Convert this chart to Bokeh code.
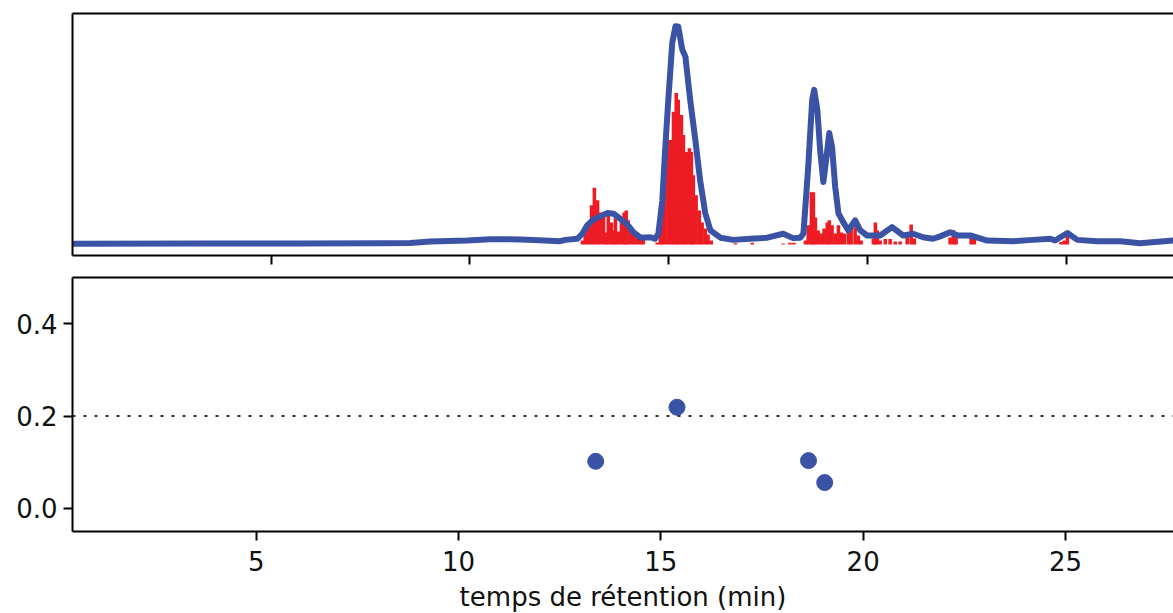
from bokeh.plotting import figure
from bokeh.models import (LinearAxis, FixedTicker, Range1d, Span, PrintfTickFormatter,
                          CustomJSTickFormatter)
from bokeh.layouts import column
from bokeh.embed import file_html
from bokeh.resources import INLINE

# ---- data ----
# chromatogram trace (retention time in min, normalised intensity)
blue_t = [0.0, 3.22, 5.73, 7.75, 8.50, 9.00, 9.93, 10.51, 11.27, 11.59, 12.27, 12.40,
          12.70, 12.83, 12.95, 13.10, 13.46, 13.61, 13.78, 13.96, 14.11, 14.29, 14.54,
          14.66, 14.74, 14.84, 14.91, 14.99, 15.09, 15.17, 15.24, 15.34, 15.42, 15.54,
          15.67, 15.79, 15.92, 16.05, 16.30, 16.62, 17.05, 17.48, 17.88, 18.13, 18.31,
          18.39, 18.51, 18.61, 18.66, 18.74, 18.81, 18.89, 18.96, 19.04, 19.11, 19.19,
          19.27, 19.39, 19.52, 19.69, 19.82, 19.99, 20.32, 20.62, 20.90, 21.15, 21.40,
          21.65, 21.83, 22.08, 22.28, 22.59, 23.01, 23.67, 24.17, 24.60, 24.72, 25.03,
          25.28, 25.78, 26.36, 26.86, 27.69, 28.0]
blue_i = [0.003, 0.005, 0.005, 0.006, 0.007, 0.014, 0.018, 0.024, 0.023, 0.021, 0.015, 0.021,
          0.026, 0.050, 0.087, 0.113, 0.143, 0.140, 0.117, 0.091, 0.056, 0.031, 0.033,
          0.026, 0.050, 0.201, 0.429, 0.658, 0.918, 0.992, 0.991, 0.886, 0.854, 0.658,
          0.475, 0.292, 0.142, 0.064, 0.031, 0.021, 0.026, 0.031, 0.049, 0.029, 0.031,
          0.050, 0.352, 0.658, 0.703, 0.612, 0.429, 0.284, 0.384, 0.507, 0.443, 0.260,
          0.142, 0.102, 0.064, 0.110, 0.064, 0.041, 0.041, 0.079, 0.041, 0.049, 0.033,
          0.026, 0.037, 0.056, 0.041, 0.041, 0.018, 0.015, 0.021, 0.026, 0.018, 0.052,
          0.021, 0.015, 0.015, 0.006, 0.018, 0.017]

# red spectrum bars
red_t = [12.83, 12.90, 12.98, 13.06, 13.13, 13.21, 13.28, 13.36, 13.43, 13.48, 13.56, 13.61,
         13.66, 13.73, 13.81, 13.88, 13.93, 13.98, 14.06, 14.13, 14.21, 14.29, 14.36,
         14.71, 14.79, 14.84, 14.91, 14.99, 15.07, 15.12, 15.19, 15.24, 15.32, 15.37,
         15.44, 15.52, 15.57, 15.62, 15.69, 15.77, 15.84, 15.92, 15.99, 16.07,
         16.68, 17.10, 17.88, 18.05, 18.15,
         18.44, 18.51, 18.59, 18.64, 18.69, 18.76, 18.84, 18.91, 18.99, 19.04, 19.11,
         19.19, 19.27, 19.34, 19.42, 19.52, 19.59, 19.69, 19.77, 19.84,
         20.15, 20.20, 20.25, 20.32, 20.45, 20.57, 20.70, 20.82, 21.00, 21.10, 21.18,
         22.08, 22.16, 22.23, 22.61, 22.69, 24.87, 24.95, 25.03]
red_h = [0.018, 0.055, 0.087, 0.178, 0.258, 0.201, 0.146, 0.132, 0.055, 0.142, 0.100, 0.064,
         0.119, 0.059, 0.105, 0.146, 0.155, 0.110, 0.073, 0.055, 0.037, 0.027, 0.027,
         0.009, 0.087, 0.146, 0.338, 0.475, 0.475, 0.603, 0.689, 0.658, 0.589, 0.498,
         0.420, 0.438, 0.420, 0.315, 0.224, 0.155, 0.100, 0.073, 0.046, 0.018,
         0.006, 0.008, 0.005, 0.008, 0.008,
         0.018, 0.087, 0.237, 0.237, 0.123, 0.064, 0.050, 0.073, 0.100, 0.110, 0.087,
         0.050, 0.087, 0.055, 0.050, 0.059, 0.082, 0.078, 0.041, 0.018,
         0.027, 0.100, 0.064, 0.018, 0.025, 0.025, 0.014, 0.014, 0.041, 0.091, 0.027,
         0.032, 0.066, 0.037, 0.032, 0.027, 0.011, 0.018, 0.037]

# bottom panel points
pts_t = [13.39, 15.40, 18.65, 19.05]
pts_v = [0.102, 0.219, 0.1035, 0.056]
threshold = 0.2

x_ticks = [5, 10, 15, 20, 25]
y_ticks = [0.0, 0.2, 0.4]

BLUE = "#3a53a4"
RED = "#ed1c24"
FONT = "DejaVu Sans"
FS = "26px"
INK = "#111111"


def style_axis(ax):
    ax.axis_line_width = 2
    ax.axis_line_color = "black"
    ax.major_tick_line_width = 2
    ax.major_tick_line_color = "black"
    ax.minor_tick_line_color = None
    ax.major_tick_in = 0
    ax.minor_tick_in = 0
    ax.minor_tick_out = 0
    ax.major_label_text_font = FONT
    ax.major_label_text_font_size = FS
    ax.major_label_text_color = INK


def bare_axis(ax):
    style_axis(ax)
    ax.ticker = FixedTicker(ticks=[])
    ax.major_tick_out = 0
    ax.major_label_standoff = 0


def base(p):
    p.outline_line_color = None
    p.xgrid.visible = False
    p.ygrid.visible = False
    top_ax = LinearAxis()
    p.add_layout(top_ax, "above")
    bare_axis(top_ax)
    return top_ax


# ---- top panel ----
top = figure(frame_width=1101, frame_height=242, min_border_left=72, min_border_right=0,
             min_border_top=13, min_border_bottom=13,
             x_range=Range1d(0, 27.70), y_range=Range1d(-0.05, 1.05),
             output_backend="svg", toolbar_location=None)
top.vbar(x=red_t, top=red_h, bottom=0, width=0.09, fill_color=RED, line_color=None)
top.line(blue_t, blue_i, line_color=BLUE, line_width=6, line_join="round")
base(top)
tx = top.below[0]
style_axis(tx)
tx.ticker = FixedTicker(ticks=x_ticks)
tx.formatter = CustomJSTickFormatter(code="return '';")
tx.major_tick_out = 9
tx.major_label_standoff = 0
bare_axis(top.left[0])

# ---- bottom panel ----
bot = figure(frame_width=1101, frame_height=254, min_border_left=72, min_border_right=0,
             min_border_top=9,
             x_range=Range1d(0.46, 27.67), y_range=Range1d(-0.05, 0.5),
             output_backend="svg", toolbar_location=None)
bot.add_layout(Span(location=threshold, dimension="width", line_color="#333333",
                    line_width=2, line_dash="3 8"))
bot.scatter(pts_t, pts_v, size=16, fill_color=BLUE, line_color=BLUE)
base(bot)
bx = bot.below[0]
style_axis(bx)
bx.ticker = FixedTicker(ticks=x_ticks)
bx.major_tick_out = 9
bx.major_label_standoff = 10
bx.axis_label = "temps de rétention (min)"
bx.axis_label_text_font = FONT
bx.axis_label_text_font_size = FS
bx.axis_label_text_font_style = "normal"
bx.axis_label_text_color = INK
bx.axis_label_standoff = 8
by = bot.left[0]
style_axis(by)
by.ticker = FixedTicker(ticks=y_ticks)
by.formatter = PrintfTickFormatter(format="%.1f")
by.major_tick_out = 9
by.major_label_standoff = 6

layout = column(top, bot, spacing=0)
open("out.html", "w").write(file_html(layout, INLINE))
